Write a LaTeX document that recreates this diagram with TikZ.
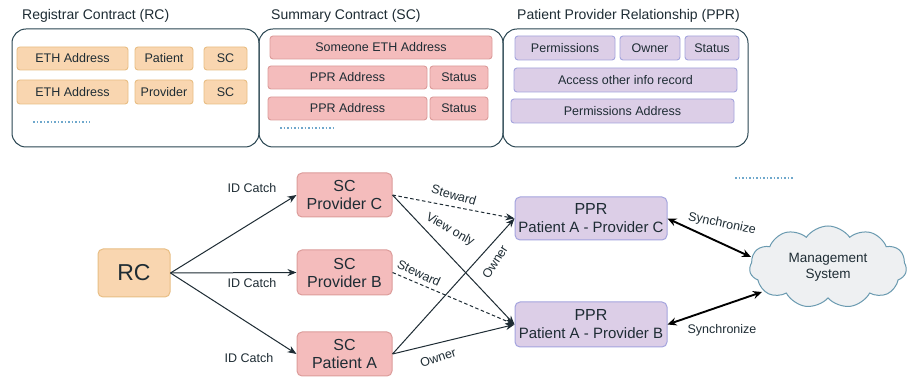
\documentclass[tikz,border=0pt]{standalone}
\usepackage{fontspec}
\setmainfont{Liberation Sans}
\usetikzlibrary{arrows.meta,shapes.symbols}
\definecolor{ofill}{HTML}{F9D6B0}
\definecolor{odraw}{HTML}{E8BE84}
\definecolor{rfill}{HTML}{F4BCBC}
\definecolor{rdraw}{HTML}{DC9C9A}
\definecolor{pfill}{HTML}{DCCEE7}
\definecolor{pdraw}{HTML}{A4A4DE}
\definecolor{paneldraw}{HTML}{2A4652}
\definecolor{txt}{HTML}{1E2C34}
\definecolor{dotc}{HTML}{6FA8CC}
\definecolor{cloudfill}{HTML}{EEF0F2}
\definecolor{clouddraw}{HTML}{6A9AB0}
\tikzset{
  cell/.style={draw, rounded corners=3pt, inner sep=0pt, line width=0.9pt, text=txt, font=\fontsize{12.5}{14}\selectfont},
  ocell/.style={cell, fill=ofill, draw=odraw},
  rcell/.style={cell, fill=rfill, draw=rdraw},
  pcell/.style={cell, fill=pfill, draw=pdraw},
  panel/.style={draw=paneldraw, rounded corners=14pt, line width=1pt},
  ptitle/.style={anchor=west, text=txt, font=\fontsize{14}{15}\selectfont, inner sep=0pt},
  bignode/.style={draw, rounded corners=5pt, inner sep=0pt, line width=1pt, text=txt, align=center, font=\fontsize{16}{18}\selectfont},
  elabel/.style={text=txt, font=\fontsize{12.5}{14}\selectfont, inner sep=0pt},
  conn/.style={draw=txt, line width=1pt, -{Stealth[length=9pt,width=7pt]}},
  dconn/.style={conn, dash pattern=on 3.5pt off 2.5pt},
  sync/.style={draw=black, line width=1.9pt, {Stealth[length=9pt,width=8pt]}-{Stealth[length=9pt,width=8pt]}},
  dots/.style={draw=dotc, line width=1.3pt, dash pattern=on 1.5pt off 2pt},
}
\begin{document}
\begin{tikzpicture}[x=1pt,y=-1pt]
\useasboundingbox (0,0) rectangle (908,379);
\fill[white] (0,0) rectangle (908,379);

% ---- panels
\draw[panel] (12,29) rectangle (259,147);
\draw[panel] (259,29) rectangle (503,147);
\draw[panel] (503,29) rectangle (748,147);
\node[ptitle] (t1) at (22,16) {Registrar Contract (RC)};
\node[ptitle] (t2) at (271,16) {Summary Contract (SC)};
\node[ptitle] (t3) at (517,16) {Patient Provider Relationship (PPR)};

% RC panel cells
\node[ocell, minimum width=111pt, minimum height=23pt] (eth1) at (72.5,58.5) {ETH Address};
\node[ocell, minimum width=58pt, minimum height=23pt] (pat) at (164,58.5) {Patient};
\node[ocell, minimum width=43pt, minimum height=23pt] (sc1) at (225.5,58.5) {SC};
\node[ocell, minimum width=111pt, minimum height=24pt] (eth2) at (72.5,92) {ETH Address};
\node[ocell, minimum width=58pt, minimum height=24pt] (prov) at (164,92) {Provider};
\node[ocell, minimum width=43pt, minimum height=24pt] (sc2) at (225.5,92) {SC};
\coordinate (d1a) at (33,122); \coordinate (d1b) at (90,122);
\draw[dots] (d1a) -- (d1b);

% SC panel cells
\node[rcell, minimum width=222pt, minimum height=23pt] (someone) at (381,47.5) {Someone ETH Address};
\node[rcell, minimum width=159pt, minimum height=23pt] (ppra1) at (347.5,77.5) {PPR Address};
\node[rcell, minimum width=58pt, minimum height=23pt] (st1) at (459,77.5) {Status};
\node[rcell, minimum width=159pt, minimum height=23pt] (ppra2) at (347.5,108.5) {PPR Address};
\node[rcell, minimum width=58pt, minimum height=23pt] (st2) at (459,108.5) {Status};
\coordinate (d2a) at (280,128); \coordinate (d2b) at (335,128);
\draw[dots] (d2a) -- (d2b);

% PPR panel cells
\node[pcell, minimum width=100pt, minimum height=24pt] (perm) at (565,48) {Permissions};
\node[pcell, minimum width=60pt, minimum height=24pt] (own) at (650,48) {Owner};
\node[pcell, minimum width=54pt, minimum height=24pt] (stp) at (712,48) {Status};
\node[pcell, minimum width=223pt, minimum height=24pt] (access) at (625.5,80) {Access other info record};
\node[pcell, minimum width=223pt, minimum height=24pt] (paddr) at (622.5,111) {Permissions Address};

% ---- lower diagram
\coordinate (d3a) at (735,178); \coordinate (d3b) at (793,178);
\draw[dots] (d3a) -- (d3b);

\node[bignode, fill=ofill, draw=odraw, minimum width=72pt, minimum height=48pt, font=\fontsize{23}{25}\selectfont] (rc) at (134,273) {RC};
\node[bignode, fill=rfill, draw=rdraw, minimum width=95pt, minimum height=44pt] (scc) at (344.5,195) {SC\\Provider C};
\node[bignode, fill=rfill, draw=rdraw, minimum width=95pt, minimum height=45pt] (scb) at (344.5,272.5) {SC\\Provider B};
\node[bignode, fill=rfill, draw=rdraw, minimum width=95pt, minimum height=44pt] (sca) at (344.5,354) {SC\\Patient A};
\node[bignode, fill=pfill, draw=pdraw, minimum width=152pt, minimum height=43pt] (pprc) at (591,218.5) {PPR\\{\fontsize{15}{18}\selectfont Patient A - Provider C}};
\node[bignode, fill=pfill, draw=pdraw, minimum width=152pt, minimum height=45pt] (pprb) at (591,324.5) {PPR\\{\fontsize{15}{18}\selectfont Patient A - Provider B}};
\node[cloud, cloud puffs=11, cloud puff arc=110, aspect=1.9, draw=clouddraw, fill=cloudfill, line width=1pt, minimum width=157pt, minimum height=82pt, inner sep=0pt, align=center, text=txt, font=\fontsize{13.5}{16}\selectfont] (ms) at (828,267) {Management\\System};
\coordinate (msin1) at (751,257);
\coordinate (msin2) at (762,292);

% RC -> SC
\draw[conn] (rc.east) -- (scc.west);
\draw[conn] (rc.east) -- (scb.west);
\draw[conn] (rc.east) -- (sca.west);
\node[elabel] (l1) at (252,188) {ID Catch};
\node[elabel] (l2) at (252,283) {ID Catch};
\node[elabel] (l3) at (249,358) {ID Catch};

% SC -> PPR
\draw[dconn] (scc.east) -- (pprc.west);
\draw[conn] (scc.east) -- (pprb.west);
\draw[dconn] (scb.east) -- (pprb.west);
\draw[conn] (sca.east) -- (pprc.west);
\draw[conn] (sca.east) -- (pprb.west);
\node[elabel, rotate=-16] (l4) at (454,195) {Steward};
\node[elabel, rotate=-30] (l5) at (450,230) {View only};
\node[elabel, rotate=-25] (l6) at (419,273) {Steward};
\node[elabel, rotate=58] (l7) at (495,262) {Owner};
\node[elabel, rotate=18] (l8) at (438,358) {Owner};

% PPR <-> cloud
\draw[sync] (pprc.east) -- (msin1);
\draw[sync] (pprb.east) -- (msin2);
\node[elabel, rotate=-12] (l9) at (722,224) {Synchronize};
\node[elabel] (l10) at (722,330) {Synchronize};
\end{tikzpicture}
\end{document}
